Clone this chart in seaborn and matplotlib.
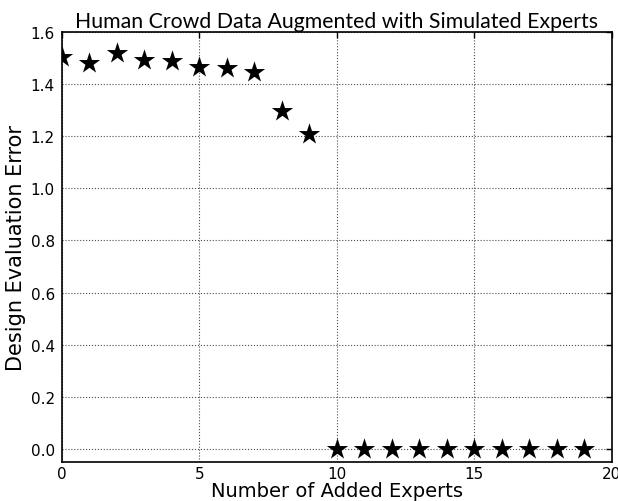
import matplotlib
matplotlib.use("Agg")
import matplotlib.pyplot as plt
import seaborn as sns
import pandas as pd

# Design evaluation error as simulated experts are added to the crowd
added_experts = list(range(20))
eval_error = [1.506, 1.48, 1.52, 1.493, 1.49, 1.466, 1.464, 1.448, 1.296, 1.208,
              0.0, 0.0, 0.0, 0.0, 0.0, 0.0, 0.0, 0.0, 0.0, 0.0]
x_ticks = [0, 5, 10, 15, 20]
y_ticks = [0.0, 0.2, 0.4, 0.6, 0.8, 1.0, 1.2, 1.4, 1.6]

df = pd.DataFrame({"experts": added_experts, "error": eval_error})

sns.set_style("white")
plt.rcParams["font.family"] = ["DejaVu Sans"]
plt.rcParams["text.color"] = "black"
plt.rcParams["axes.labelcolor"] = "black"

fig = plt.figure(figsize=(6.18, 5.02), dpi=100)
ax = fig.add_axes([0.1, 0.078, 0.89, 0.856])

sns.scatterplot(data=df, x="experts", y="error", marker="*", s=260,
                color="black", edgecolor="black", linewidth=0, ax=ax, zorder=3)

ax.set_xlim(0, 20)
ax.set_ylim(-0.05, 1.6)
ax.set_xticks(x_ticks)
ax.set_yticks(y_ticks)
ax.set_yticklabels([f"{v:.1f}" for v in y_ticks])
ax.tick_params(direction="in", top=True, right=True, length=4, width=1,
               labelsize=11, colors="black")
ax.tick_params(axis="x", pad=3)
ax.tick_params(axis="y", pad=5)
ax.grid(True, color="black", linestyle=":", linewidth=0.8, alpha=0.7)
for sp in ax.spines.values():
    sp.set_color("black")
    sp.set_linewidth(1.2)

ax.set_xlabel("Number of Added Experts",
              fontdict={"family": ["DejaVu Sans"], "size": 14, "color": "black"},
              labelpad=0)
ax.set_ylabel("Design Evaluation Error",
              fontdict={"family": ["DejaVu Sans"], "size": 15, "color": "black"},
              labelpad=3)
ax.set_title("Human Crowd Data Augmented with Simulated Experts",
             fontdict={"family": ["Lato", "DejaVu Sans"], "size": 15.3,
                       "color": "black"}, pad=3.5)

fig.savefig("out.png", dpi=100)
